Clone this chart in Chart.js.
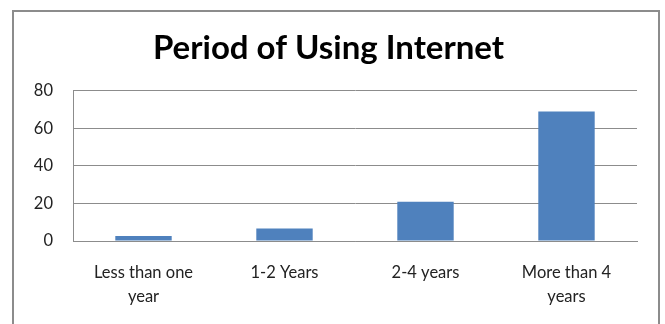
<!DOCTYPE html>
<html>
<head>
<meta charset="utf-8">
<script src="https://cdn.jsdelivr.net/npm/chart.js@4/dist/chart.umd.min.js"></script>
<style>
  html, body { margin: 0; padding: 0; background: #fff; }
  #wrap { width: 665px; height: 324px; position: relative; }
</style>
</head>
<body>
<div id="wrap"><canvas id="c" width="665" height="324"></canvas></div>
<script>
var periods = [['Less than one', 'year'], '1-2 Years', '2-4 years', ['More than 4', 'years']]
var users = [2.6, 6.7, 20.9, 68.9]
var yTicks = [0, 20, 40, 60, 80]

// outer frame around the whole chart, open at the bottom
var frame = {
    id: 'frame',
    beforeDraw: function (chart) {
        var ctx = chart.ctx
        ctx.save()
        ctx.strokeStyle = '#8c8c8c'
        ctx.lineWidth = 2
        ctx.beginPath()
        ctx.moveTo(13, 330)
        ctx.lineTo(13, 11)
        ctx.lineTo(659, 11)
        ctx.lineTo(659, 330)
        ctx.stroke()
        ctx.restore()
    }
}

var tickFont = { family: 'Lato, "Open Sans", sans-serif', size: 16.5, lineHeight: 1.45 }

new Chart(document.getElementById('c'), {
    type: 'bar',
    data: {
        labels: periods,
        datasets: [{
            data: users,
            backgroundColor: '#4f81bd',
            borderWidth: 0,
            barPercentage: 0.4,
            categoryPercentage: 1
        }]
    },
    options: {
        responsive: false,
        animation: false,
        layout: { padding: { left: 20, right: 28, top: 0, bottom: 0 } },
        plugins: {
            legend: { display: false },
            tooltip: { enabled: false },
            title: {
                display: true,
                text: 'Period of Using Internet',
                color: '#000',
                font: { family: 'Lato, "Open Sans", sans-serif', size: 33, weight: 'bold', lineHeight: 1.2 },
                padding: { top: 29, bottom: 22 }
            }
        },
        scales: {
            x: {
                grid: { display: false, drawTicks: false },
                border: { display: true, color: '#8c8c8c', width: 1 },
                ticks: { color: '#222', font: tickFont, padding: 20, maxRotation: 0, autoSkip: false },
                afterFit: function (s) { s.height = 83 }
            },
            y: {
                min: 0,
                max: 80,
                afterBuildTicks: function (s) { s.ticks = yTicks.map(function (v) { return { value: v } }) },
                grid: { color: '#8c8c8c', lineWidth: 1, drawTicks: false },
                border: { display: true, color: '#8c8c8c', width: 1 },
                ticks: { color: '#222', font: tickFont, padding: 20 },
                afterFit: function (s) { s.width = 53 }
            }
        }
    },
    plugins: [frame]
})
</script>
</body>
</html>
